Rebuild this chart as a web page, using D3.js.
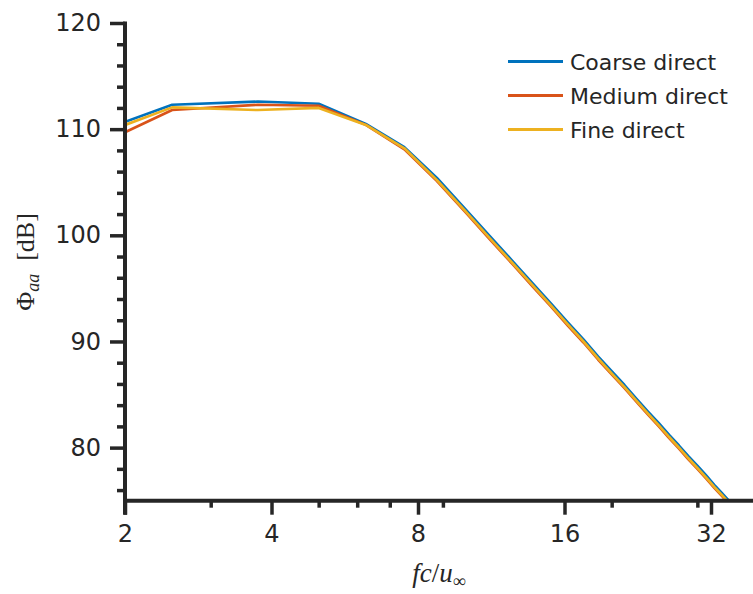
<!DOCTYPE html>
<html>
<head>
<meta charset="utf-8">
<script src="https://cdn.jsdelivr.net/npm/d3@7"></script>
<style>
  body { margin: 0; background: #fff; }
  svg { display: block; }
  .tick text { font-family: 'DejaVu Sans', sans-serif; }
</style>
</head>
<body>
<div id="chart"></div>
<script>
// fc/u_inf sample points
const freq = [1.25, 2.5, 3.75, 5, 6.25, 7.5, 8.75, 10, 11.25, 12.5, 13.75, 15, 16.25, 17.5,
              18.75, 20, 21.25, 22.5, 23.75, 25, 26.25, 27.5, 28.75, 30, 31.25, 32.5, 33.75, 35];

const coarse = [107.3, 112.3, 112.6, 112.4, 110.5, 108.3, 105.4, 102.5, 99.9, 97.6, 95.5, 93.6, 91.8, 90.2,
                88.6, 87.2, 85.9, 84.6, 83.4, 82.3, 81.2, 80.2, 79.2, 78.3, 77.4, 76.5, 75.7, 74.9];
const medium = [105.3, 111.8, 112.3, 112.2, 110.4, 108.1, 105.1, 102.2, 99.6, 97.3, 95.2, 93.3, 91.5, 89.9,
                88.3, 86.9, 85.6, 84.3, 83.1, 82.0, 80.9, 79.9, 78.9, 78.0, 77.1, 76.2, 75.4, 74.6];
const fine = [106.9, 112.05, 111.8, 112.0, 110.4, 108.2, 105.2, 102.3, 99.7, 97.4, 95.3, 93.4, 91.6, 90.0,
              88.4, 87.0, 85.7, 84.4, 83.2, 82.1, 81.0, 80.0, 79.0, 78.1, 77.2, 76.3, 75.5, 74.7];

const seriesNames = ['Coarse direct', 'Medium direct', 'Fine direct'];
const xTicks = [2, 4, 8, 16, 32];
const xMinor = [3, 5, 6, 7, 9, 20, 30];
const yTicks = [80, 90, 100, 110, 120];
const yMinor = [76, 78, 82, 84, 86, 88, 92, 94, 96, 98, 102, 104, 106, 108, 112, 114, 116, 118];

const width = 753;
const height = 594;
const axisColor = '#262626';
const colors = ['#0072BD', '#D95319', '#EDB120'];

const plotLeft = 125, plotTop = 23, plotBottom = 500.7;

const x = d3.scaleLog().base(2).domain([2, 40]).range([plotLeft, plotLeft + 146.5 * Math.log2(20)]);
const y = d3.scaleLinear().domain([75, 120]).range([plotBottom, plotTop]);

const svg = d3.select('#chart').append('svg')
    .attr('width', width)
    .attr('height', height);

svg.append('defs').append('clipPath').attr('id', 'plotclip')
    .append('rect')
    .attr('x', plotLeft).attr('y', 0)
    .attr('width', width - plotLeft).attr('height', plotBottom);

// lines
const line = d3.line()
    .x(function(d) { return x(d[0]); })
    .y(function(d) { return y(d[1]); });

const allSeries = [coarse, medium, fine];
svg.append('g').attr('clip-path', 'url(#plotclip)')
    .selectAll('path')
    .data(allSeries)
    .enter()
    .append('path')
    .attr('d', function(s) { return line(freq.map(function(f, i) { return [f, s[i]]; })); })
    .attr('fill', 'none')
    .attr('stroke', function(d, i) { return colors[i]; })
    .attr('stroke-width', 2.6)
    .attr('stroke-linejoin', 'round');

// axes
const styleAxis = function(g, major) {
    g.select('.domain').remove();
    g.selectAll('.tick line').attr('stroke', axisColor).attr('stroke-width', 3.5);
    g.selectAll('.tick text').attr('fill', axisColor).attr('font-size', major ? 24 : 0);
};

const yMinorAxis = svg.append('g').attr('transform', 'translate(' + plotLeft + ',0)')
    .call(d3.axisLeft(y).tickValues(yMinor).tickSize(8).tickFormat(''));
styleAxis(yMinorAxis, false);

const yAxis = svg.append('g').attr('transform', 'translate(' + plotLeft + ',0)')
    .call(d3.axisLeft(y).tickValues(yTicks).tickSize(15).tickPadding(9).tickFormat(d3.format('d')));
styleAxis(yAxis, true);

const xMinorAxis = svg.append('g').attr('transform', 'translate(0,' + plotBottom + ')')
    .call(d3.axisBottom(x).tickValues(xMinor).tickSize(7).tickFormat(''));
styleAxis(xMinorAxis, false);

const xAxis = svg.append('g').attr('transform', 'translate(0,' + plotBottom + ')')
    .call(d3.axisBottom(x).tickValues(xTicks).tickSize(14).tickPadding(10).tickFormat(d3.format('d')));
styleAxis(xAxis, true);

// axis lines
svg.append('line')
    .attr('x1', plotLeft).attr('x2', plotLeft)
    .attr('y1', plotTop - 1.5).attr('y2', plotBottom + 14)
    .attr('stroke', axisColor).attr('stroke-width', 4);
svg.append('line')
    .attr('x1', plotLeft).attr('x2', width)
    .attr('y1', plotBottom).attr('y2', plotBottom)
    .attr('stroke', axisColor).attr('stroke-width', 4);

// axis labels
const xl = svg.append('text')
    .attr('x', 439).attr('y', 582)
    .attr('text-anchor', 'middle')
    .attr('font-family', "'Liberation Serif', serif")
    .attr('font-size', 27)
    .attr('fill', axisColor);
xl.append('tspan').attr('font-style', 'italic').text('fc');
xl.append('tspan').text('/');
xl.append('tspan').attr('font-style', 'italic').text('u');
xl.append('tspan').attr('font-size', 18).attr('dy', 5).text('\u221E');

const yl = svg.append('text')
    .attr('transform', 'translate(34,262) rotate(-90)')
    .attr('text-anchor', 'middle')
    .attr('font-family', "'Liberation Serif', serif")
    .attr('font-size', 26)
    .attr('fill', axisColor);
yl.append('tspan').text('\u03A6');
yl.append('tspan').attr('font-style', 'italic').attr('font-size', 18).attr('dy', 5).text('aa');
yl.append('tspan').attr('dy', -5).text('\u2002[dB]');

// legend
const legend = svg.append('g').selectAll('.legend')
    .data(seriesNames)
    .enter()
    .append('g')
    .attr('transform', function(d, i) { return 'translate(508,' + (61.5 + i * 34) + ')'; });

legend.append('line')
    .attr('x1', 0).attr('x2', 55)
    .attr('stroke', function(d, i) { return colors[i]; })
    .attr('stroke-width', 3.2);

legend.append('text')
    .attr('x', 62).attr('y', 8)
    .attr('font-family', "'DejaVu Sans', sans-serif")
    .attr('font-size', 22)
    .attr('fill', axisColor)
    .text(function(d) { return d; });
</script>
</body>
</html>
